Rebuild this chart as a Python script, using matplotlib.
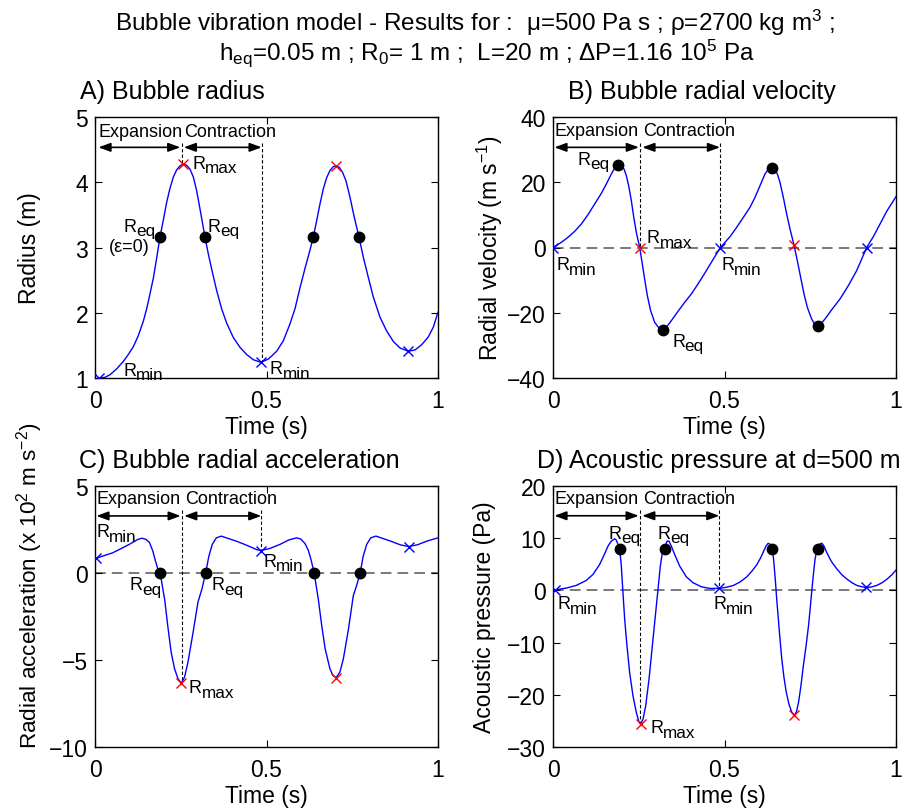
import matplotlib
matplotlib.use("Agg")
import matplotlib.pyplot as plt

plt.rcParams['font.family'] = ['Liberation Sans', 'DejaVu Sans']
plt.rcParams['mathtext.fontset'] = 'custom'
plt.rcParams['mathtext.rm'] = 'Liberation Sans'
plt.rcParams['mathtext.it'] = 'Liberation Sans'
plt.rcParams['mathtext.bf'] = 'Liberation Sans:bold'

# ---------------- data ----------------
# A) radius (m)
t_A = [0.0126, 0.029, 0.0437, 0.0632, 0.0826, 0.0972, 0.1118, 0.1263, 0.1409, 0.1506,
       0.1603, 0.1701, 0.1798, 0.1895, 0.1992, 0.2089, 0.2187, 0.2284, 0.2381, 0.2478,
       0.2575, 0.2672, 0.277, 0.2867, 0.2964, 0.3061, 0.3207, 0.3304, 0.3401, 0.3547,
       0.3693, 0.3839, 0.4033, 0.4227, 0.4422, 0.4616, 0.484, 0.5054, 0.5296, 0.549,
       0.5685, 0.583, 0.5976, 0.6122, 0.6268, 0.6365, 0.6462, 0.656, 0.6657, 0.6754,
       0.6851, 0.6948, 0.7026, 0.7123, 0.722, 0.7318, 0.7434, 0.7561, 0.7697, 0.7823,
       0.7969, 0.8115, 0.831, 0.8504, 0.8698, 0.8892, 0.9135, 0.933, 0.9524, 0.9718,
       0.9864, 1.0]
R_A = [1.00, 1.01, 1.05, 1.14, 1.255, 1.36, 1.48, 1.65, 1.87, 2.06,
       2.29, 2.53, 2.84, 3.16, 3.42, 3.69, 3.91, 4.08, 4.19, 4.25,
       4.28, 4.26, 4.20, 4.08, 3.87, 3.59, 3.16, 2.90, 2.67, 2.34,
       2.06, 1.84, 1.62, 1.47, 1.36, 1.28, 1.24, 1.29, 1.41, 1.57,
       1.83, 2.06, 2.38, 2.68, 2.96, 3.16, 3.41, 3.67, 3.90, 4.07,
       4.18, 4.24, 4.25, 4.23, 4.15, 4.02, 3.77, 3.46, 3.16, 2.85,
       2.54, 2.24, 1.93, 1.72, 1.56, 1.46, 1.41, 1.43, 1.51, 1.63,
       1.78, 2.01]
tmin_A = [0.0126, 0.484, 0.9135]
Rmin_A = [1.00, 1.24, 1.41]
tmax_A = [0.2575, 0.7026]
Rmax_A = [4.28, 4.25]
teq_A = [0.1895, 0.3207, 0.6365, 0.7697]
Req_A = [3.16, 3.16, 3.16, 3.16]

# B) radial velocity (m/s)
t_B = [0.0, 0.0243, 0.0437, 0.0632, 0.0826, 0.102, 0.1215, 0.1409, 0.1555, 0.1701,
       0.1798, 0.1895, 0.1992, 0.207, 0.2138, 0.2206, 0.2284, 0.2362, 0.2439, 0.2527,
       0.2604, 0.2672, 0.275, 0.2847, 0.2964, 0.311, 0.3207, 0.3304, 0.345, 0.3644,
       0.3839, 0.4033, 0.4227, 0.4422, 0.4616, 0.488, 0.516, 0.5355, 0.555, 0.5743,
       0.589, 0.6035, 0.618, 0.6278, 0.6375, 0.6472, 0.654, 0.6618, 0.6715, 0.6812,
       0.691, 0.7026, 0.7123, 0.722, 0.7318, 0.7415, 0.7541, 0.7638, 0.7716, 0.7804,
       0.793, 0.8105, 0.8367, 0.861, 0.8853, 0.9145, 0.9339, 0.9534, 0.9728, 1.0]
v_B = [0.0, 1.58, 3.12, 4.96, 7.20, 10.06, 13.33, 16.60, 19.46, 22.53,
       24.37, 25.39, 25.08, 24.06, 22.02, 18.95, 14.35, 8.74, 4.14, 0.0,
       -5.06, -9.66, -14.76, -19.36, -22.94, -24.98, -25.29, -24.47, -22.43, -19.57,
       -16.81, -14.25, -11.19, -7.92, -4.55, 0.0, 3.32, 6.18, 9.25, 12.31,
       15.38, 18.95, 22.53, 23.96, 24.37, 23.75, 22.53, 19.97, 15.38, 10.27,
       5.67, 0.77, -4.04, -9.14, -14.25, -18.34, -21.92, -23.66, -24.06, -23.45,
       -21.92, -19.36, -15.79, -11.70, -7.10, 0.0, 3.32, 7.20, 11.08, 15.6]
tmin_B = [0.0, 0.488, 0.9145]
vmin_B = [0.0, 0.0, 0.0]
tmax_B = [0.2527, 0.7026]
vmax_B = [0.0, 0.77]
teq_B = [0.1895, 0.3207, 0.6375, 0.7716]
veq_B = [25.39, -25.29, 24.37, -24.06]

# C) radial acceleration (x 10^2 m/s^2)
t_C = [0.003, 0.022, 0.0515, 0.0808, 0.105, 0.1247, 0.137, 0.149, 0.1588, 0.1686,
       0.1763, 0.1832, 0.190, 0.198, 0.203, 0.212, 0.222, 0.232, 0.242, 0.2515,
       0.261, 0.271, 0.286, 0.300, 0.312, 0.3225, 0.332, 0.3417, 0.3537, 0.3683,
       0.383, 0.4122, 0.4415, 0.4707, 0.4835, 0.5096, 0.539, 0.565, 0.588, 0.600,
       0.612, 0.622, 0.630, 0.636, 0.639, 0.645, 0.651, 0.661, 0.671, 0.685,
       0.694, 0.703, 0.714, 0.724, 0.739, 0.753, 0.763, 0.773, 0.782, 0.792,
       0.804, 0.819, 0.834, 0.862, 0.890, 0.914, 0.940, 0.970, 1.0]
a_C = [0.835, 0.97, 1.16, 1.45, 1.70, 1.93, 2.00, 1.93, 1.75, 1.26,
       0.68, 0.24, 0.0, -0.94, -1.50, -3.02, -4.55, -5.51, -6.08, -6.33,
       -5.99, -5.13, -3.41, -1.69, -0.90, 0.0, 0.97, 1.64, 2.02, 2.12,
       2.02, 1.83, 1.60, 1.35, 1.29, 1.41, 1.64, 1.90, 2.02, 1.95,
       1.70, 1.30, 0.75, 0.25, 0.0, -0.75, -1.50, -3.02, -4.36, -5.51,
       -5.90, -6.01, -5.70, -4.94, -3.22, -1.31, -0.70, 0.0, 0.97, 1.64,
       2.02, 2.12, 2.02, 1.83, 1.62, 1.52, 1.62, 1.85, 2.02]
tmin_C = [0.003, 0.4835, 0.914]
amin_C = [0.835, 1.29, 1.52]
tmax_C = [0.2515, 0.703]
amax_C = [-6.33, -6.01]
teq_C = [0.190, 0.3225, 0.639, 0.773]
aeq_C = [0.0, 0.0, 0.0, 0.0]

# D) acoustic pressure at d=500 m (Pa)
t_D = [0.005, 0.039, 0.068, 0.097, 0.1166, 0.136, 0.1506, 0.1603, 0.170, 0.1798,
       0.1846, 0.1895, 0.1944, 0.1992, 0.204, 0.209, 0.2157, 0.2235, 0.2332, 0.243,
       0.2507, 0.2556, 0.2624, 0.2702, 0.2799, 0.2896, 0.2993, 0.3071, 0.3129, 0.3188,
       0.3256, 0.3324, 0.3382, 0.345, 0.3547, 0.3693, 0.3887, 0.4082, 0.4325, 0.4568,
       0.483, 0.505, 0.526, 0.545, 0.565, 0.580, 0.594, 0.605, 0.614, 0.621,
       0.627, 0.632, 0.636, 0.639, 0.643, 0.648, 0.652, 0.657, 0.662, 0.667,
       0.673, 0.680, 0.688, 0.696, 0.704, 0.710, 0.716, 0.723, 0.730, 0.738,
       0.745, 0.750, 0.755, 0.760, 0.764, 0.768, 0.772, 0.778, 0.784, 0.790,
       0.798, 0.812, 0.828, 0.842, 0.857, 0.872, 0.886, 0.900, 0.913, 0.928,
       0.944, 0.960, 0.974, 0.988, 1.0]
p_D = [0.1, 0.45, 0.96, 1.91, 3.06, 4.97, 7.02, 8.48, 9.44, 9.89,
       9.63, 8.80, 7.97, 4.66, -0.45, -5.55, -10.65, -15.75, -20.22, -23.41,
       -25.19, -25.64, -24.68, -22.13, -17.03, -10.65, -4.27, 0.83, 4.66, 7.21,
       7.97, 9.44, 9.44, 8.48, 6.89, 4.66, 2.61, 1.47, 0.70, 0.38,
       0.38, 0.60, 0.95, 1.60, 2.60, 3.70, 4.90, 6.20, 7.50, 8.50,
       9.00, 8.90, 8.50, 8.09, 5.99, 2.17, -1.50, -5.48, -9.50, -13.12,
       -16.50, -19.49, -21.80, -23.31, -23.95, -23.20, -21.40, -18.20, -14.39, -10.50,
       -6.75, -3.30, 0.25, 3.60, 6.00, 7.30, 8.09, 8.90, 9.04, 8.50,
       7.26, 5.50, 4.08, 3.00, 2.17, 1.45, 0.95, 0.70, 0.57, 0.65,
       0.95, 1.50, 2.17, 3.00, 3.89]
tmin_D = [0.005, 0.483, 0.913]
pmin_D = [0.1, 0.38, 0.57]
tmax_D = [0.2556, 0.704]
pmax_D = [-25.64, -23.95]
teq_D = [0.1944, 0.3256, 0.639, 0.772]
peq_D = [7.97, 7.97, 7.97, 7.97]

xticks = [0, 0.5, 1]
xticklabels = ['0', '0.5', '1']

# ---------------- figure ----------------
fig = plt.figure(figsize=(9.06, 8.12), dpi=100)
W, H = 906.0, 812.0


def axbox(left, top, right, bottom):
    return [left / W, 1 - bottom / H, (right - left) / W, (bottom - top) / H]


axA = fig.add_axes(axbox(95, 118, 438, 379))
axB = fig.add_axes(axbox(553, 118, 896, 379))
axC = fig.add_axes(axbox(95, 487, 438, 748))
axD = fig.add_axes(axbox(553, 487, 896, 748))

renderer = fig.canvas.get_renderer()
FS_ANN = 13


def sublabel(ax, x, y, sub, main='R'):
    t = ax.text(x, y, main, fontsize=FS_ANN, ha='left', va='baseline')
    w = t.get_window_extent(renderer).width
    ax.annotate(sub, xy=(x, y), xycoords='data', xytext=(w - 0.5, -4.5),
                textcoords='offset pixels', fontsize=FS_ANN * 0.95,
                ha='left', va='baseline')


def setup(ax, ylim, yticks, title, ylabel, title_x, ylabel_x, ylabel_y=0.5, ylabel_fs=16.5):
    ax.set_xlim(0, 1)
    ax.set_ylim(*ylim)
    ax.set_xticks(xticks)
    ax.set_xticklabels(xticklabels)
    ax.set_yticks(yticks)
    ax.tick_params(direction='in', top=True, right=True, length=5, width=0.8,
                   labelsize=16.5, color='black')
    ax.tick_params(axis='x', pad=8)
    ax.tick_params(axis='y', pad=5)
    for s in ax.spines.values():
        s.set_linewidth(1.0)
    ax.text(title_x, 1.073, title, transform=ax.transAxes, fontsize=18,
            ha='left', va='baseline')
    ax.set_xlabel('Time (s)', fontsize=16.5)
    ax.xaxis.set_label_coords(0.5, -49.0 / 261)
    ax.xaxis.label.set_va('center')
    ax.set_ylabel(ylabel, fontsize=ylabel_fs)
    ax.yaxis.set_label_coords(ylabel_x, ylabel_y)
    ax.yaxis.label.set_va('center')


def phase_marks(ax, t0, t1, t2, y_arrow, y_top, y1, y2, y_text):
    ax.plot([t1, t1], [y_top, y1], color='black', lw=0.8, dashes=(3, 2), zorder=2)
    ax.plot([t2, t2], [y_top, y2], color='black', lw=0.8, dashes=(3, 2), zorder=2)
    style = '<|-|>,head_length=0.6,head_width=0.22'
    ax.annotate('', xy=(t1 - 0.004, y_arrow), xytext=(t0, y_arrow),
                arrowprops=dict(arrowstyle=style, color='black', lw=1.2,
                                mutation_scale=12, shrinkA=0, shrinkB=0))
    ax.annotate('', xy=(t2, y_arrow), xytext=(t1 + 0.006, y_arrow),
                arrowprops=dict(arrowstyle=style, color='black', lw=1.2,
                                mutation_scale=12, shrinkA=0, shrinkB=0))
    ax.text(t0, y_text, 'Expansion', fontsize=FS_ANN, ha='left', va='baseline')
    ax.text(t1 + 0.008, y_text, 'Contraction', fontsize=FS_ANN, ha='left', va='baseline')


def draw(ax, t, y, tmin, ymin, tmax, ymax, teq, yeq, zero_line):
    if zero_line:
        ax.axhline(0, color='#555555', lw=1.1, dashes=(7, 4), zorder=1)
    ax.plot(t, y, color='blue', lw=1.0, zorder=3)
    ax.plot(tmin, ymin, 'x', color='blue', ms=7, mew=1.0, zorder=4)
    ax.plot(tmax, ymax, 'x', color='red', ms=7, mew=1.0, zorder=4)
    ax.plot(teq, yeq, 'o', color='black', ms=7.5, zorder=5)


# ---- A
setup(axA, (1, 5), [1, 2, 3, 4, 5], 'A) Bubble radius', 'Radius (m)', -0.044, -0.19)
draw(axA, t_A, R_A, tmin_A, Rmin_A, tmax_A, Rmax_A, teq_A, Req_A, False)
phase_marks(axA, 0.01, 0.2527, 0.486, 4.535, 4.6, Rmax_A[0], Rmin_A[1], 4.71)
sublabel(axA, 0.285, 4.22, 'max')
sublabel(axA, 0.0826, 3.26, 'eq')
axA.text(0.041, 2.95, '(ε=0)', fontsize=FS_ANN, ha='left', va='baseline')
sublabel(axA, 0.3275, 3.26, 'eq')
sublabel(axA, 0.083, 1.05, 'min')
sublabel(axA, 0.510, 1.07, 'min')

# ---- B
setup(axB, (-40, 40), [-40, -20, 0, 20, 40], 'B) Bubble radial velocity',
      'Radial velocity (m s$^{-1}$)', 0.044, -0.184)
draw(axB, t_B, v_B, tmin_B, vmin_B, tmax_B, vmax_B, teq_B, veq_B, True)
phase_marks(axB, 0.004, 0.2545, 0.487, 30.7, 31.9, 0.0, 0.0, 34.6)
sublabel(axB, 0.071, 25.6, 'eq')
sublabel(axB, 0.274, 1.6, 'max')
sublabel(axB, 0.0097, -6.6, 'min')
sublabel(axB, 0.347, -30.1, 'eq')
sublabel(axB, 0.492, -6.6, 'min')

# ---- C
setup(axC, (-10, 5), [-10, -5, 0, 5], 'C) Bubble radial acceleration',
      'Radial acceleration (x 10$^2$ m s$^{-2}$)', -0.047, -0.19,
      ylabel_y=0.62, ylabel_fs=16.2)
draw(axC, t_C, a_C, tmin_C, amin_C, tmax_C, amax_C, teq_C, aeq_C, True)
phase_marks(axC, 0.004, 0.254, 0.485, 3.28, 3.62, amax_C[0], amin_C[1], 4.0)
sublabel(axC, 0.005, 2.10, 'min')
sublabel(axC, 0.100, -0.92, 'eq')
sublabel(axC, 0.340, -0.92, 'eq')
sublabel(axC, 0.274, -6.85, 'max')
sublabel(axC, 0.492, 0.41, 'min')

# ---- D
setup(axD, (-30, 20), [-30, -20, -10, 0, 10, 20], 'D) Acoustic pressure at d=500 m',
      'Acoustic pressure (Pa)', -0.047, -0.20)
draw(axD, t_D, p_D, tmin_D, pmin_D, tmax_D, pmax_D, teq_D, peq_D, True)
phase_marks(axD, 0.004, 0.254, 0.485, 14.3, 15.4, pmax_D[0], pmin_D[1], 16.7)
sublabel(axD, 0.0117, -3.4, 'min')
sublabel(axD, 0.163, 10.1, 'eq')
sublabel(axD, 0.306, 10.1, 'eq')
sublabel(axD, 0.284, -27.2, 'max')
sublabel(axD, 0.4665, -3.4, 'min')

# ---- suptitle
fig.text(475 / W, 1 - 31 / H,
         'Bubble vibration model - Results for :  μ=500 Pa s ; ρ=2700 kg m$^3$ ;',
         fontsize=17.5, ha='center', va='baseline')
fig.text(487 / W, 1 - 60 / H,
         'h$_{\\mathrm{eq}}$=0.05 m ; R$_0$= 1 m ;  L=20 m ; ΔP=1.16 10$^5$ Pa',
         fontsize=17.5, ha='center', va='baseline')

fig.savefig('out.png', dpi=100)
